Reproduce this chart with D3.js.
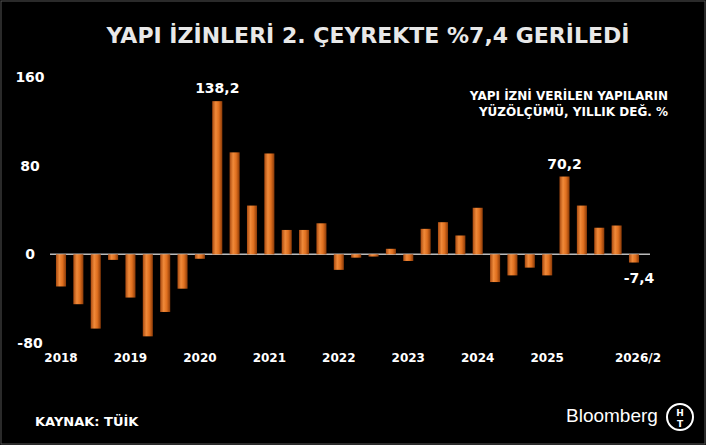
<!DOCTYPE html><html><head><meta charset="utf-8"><script src="https://cdn.jsdelivr.net/npm/d3@7"></script>
<style>body{margin:0;background:#000}svg{display:block}text{font-family:"DejaVu Sans",sans-serif;font-weight:bold;fill:#fff}</style></head><body>
<svg id="c" width="706" height="445"></svg>
<script>
const quarters=d3.range(34).map(i=>`${2018+Math.floor(i/4)}Q${i%4+1}`);
const values=[-29,-45,-67,-5,-39,-74,-52,-31,-4,138.2,92,44,91,22,22,28,-14,-3,-2,5,-6,23,29,17,42,-25,-19,-12,-19,70.2,44,24,26,-7.4];
const yTicks=[-80,0,80,160];
const xLabels=[["2018",0],["2019",4],["2020",8],["2021",12],["2022",16],["2023",20],["2024",24],["2025",28],["2026/2",33]];
const svg=d3.select("#c");
svg.append("rect").attr("x",1).attr("y",1).attr("width",704).attr("height",443).attr("fill","#000").attr("stroke","#555");
const defs=svg.append("defs");
const g=defs.append("linearGradient").attr("id","bg");
[[0,"#a84a10"],[0.35,"#f08a3a"],[0.65,"#e0701f"],[1,"#8a3a08"]].forEach(([o,c])=>g.append("stop").attr("offset",o).attr("stop-color",c));
const x=d3.scaleBand().domain(quarters).range([52.5,642.5]).paddingInner(0.42).paddingOuter(0.2);
const y=d3.scaleLinear().domain([-80,160]).range([343,77]);
svg.append("line").attr("x1",50).attr("x2",650).attr("y1",y(0)).attr("y2",y(0)).attr("stroke","#bbb").attr("stroke-width",1.5);
svg.selectAll(".b").data(values).join("rect").attr("x",(d,i)=>x(quarters[i])).attr("width",x.bandwidth())
 .attr("y",d=>y(Math.max(0,d))).attr("height",d=>Math.abs(y(d)-y(0))).attr("fill","url(#bg)");
svg.selectAll(".yt").data(yTicks).join("text").attr("x",30).attr("y",d=>y(d)+5).attr("text-anchor","middle").attr("font-size",14).text(d=>d);
svg.selectAll(".xt").data(xLabels).join("text").attr("x",d=>x(quarters[d[1]])+x.bandwidth()/2+(d[1]==33?4:0)).attr("y",362).attr("text-anchor","middle").attr("font-size",12).text(d=>d[0]);
[[9,"138,2",-8],[29,"70,2",-8],[33,"-7,4",20]].forEach(([i,t,dy])=>{const v=values[i];
 svg.append("text").attr("x",x(quarters[i])+x.bandwidth()/2+(i==33?5:0)).attr("y",y(v)+dy).attr("text-anchor","middle").attr("font-size",14).text(t);});
svg.append("text").attr("x",368).attr("y",43).attr("text-anchor","middle").attr("font-size",22).style("fill","#e8e8e8").text("YAPI İZİNLERİ 2. ÇEYREKTE %7,4 GERİLEDİ");
svg.append("text").attr("x",668).attr("y",100).attr("text-anchor","end").attr("font-size",12).text("YAPI İZNİ VERİLEN YAPILARIN");
svg.append("text").attr("x",668).attr("y",116).attr("text-anchor","end").attr("font-size",12).text("YÜZÖLÇÜMÜ, YILLIK DEĞ. %");
svg.append("text").attr("x",35).attr("y",426).attr("font-size",13).text("KAYNAK: TÜİK");
svg.append("text").attr("x",566).attr("y",422).attr("font-size",19).style("font-family","Liberation Sans").style("font-weight","normal").text("Bloomberg");
svg.append("circle").attr("cx",680).attr("cy",417).attr("r",13).attr("fill","none").attr("stroke","#fff").attr("stroke-width",2);
svg.append("text").attr("x",680).attr("y",416).attr("text-anchor","middle").attr("font-size",9).text("H");
svg.append("text").attr("x",680).attr("y",427).attr("text-anchor","middle").attr("font-size",9).text("T");
</script></body></html>
